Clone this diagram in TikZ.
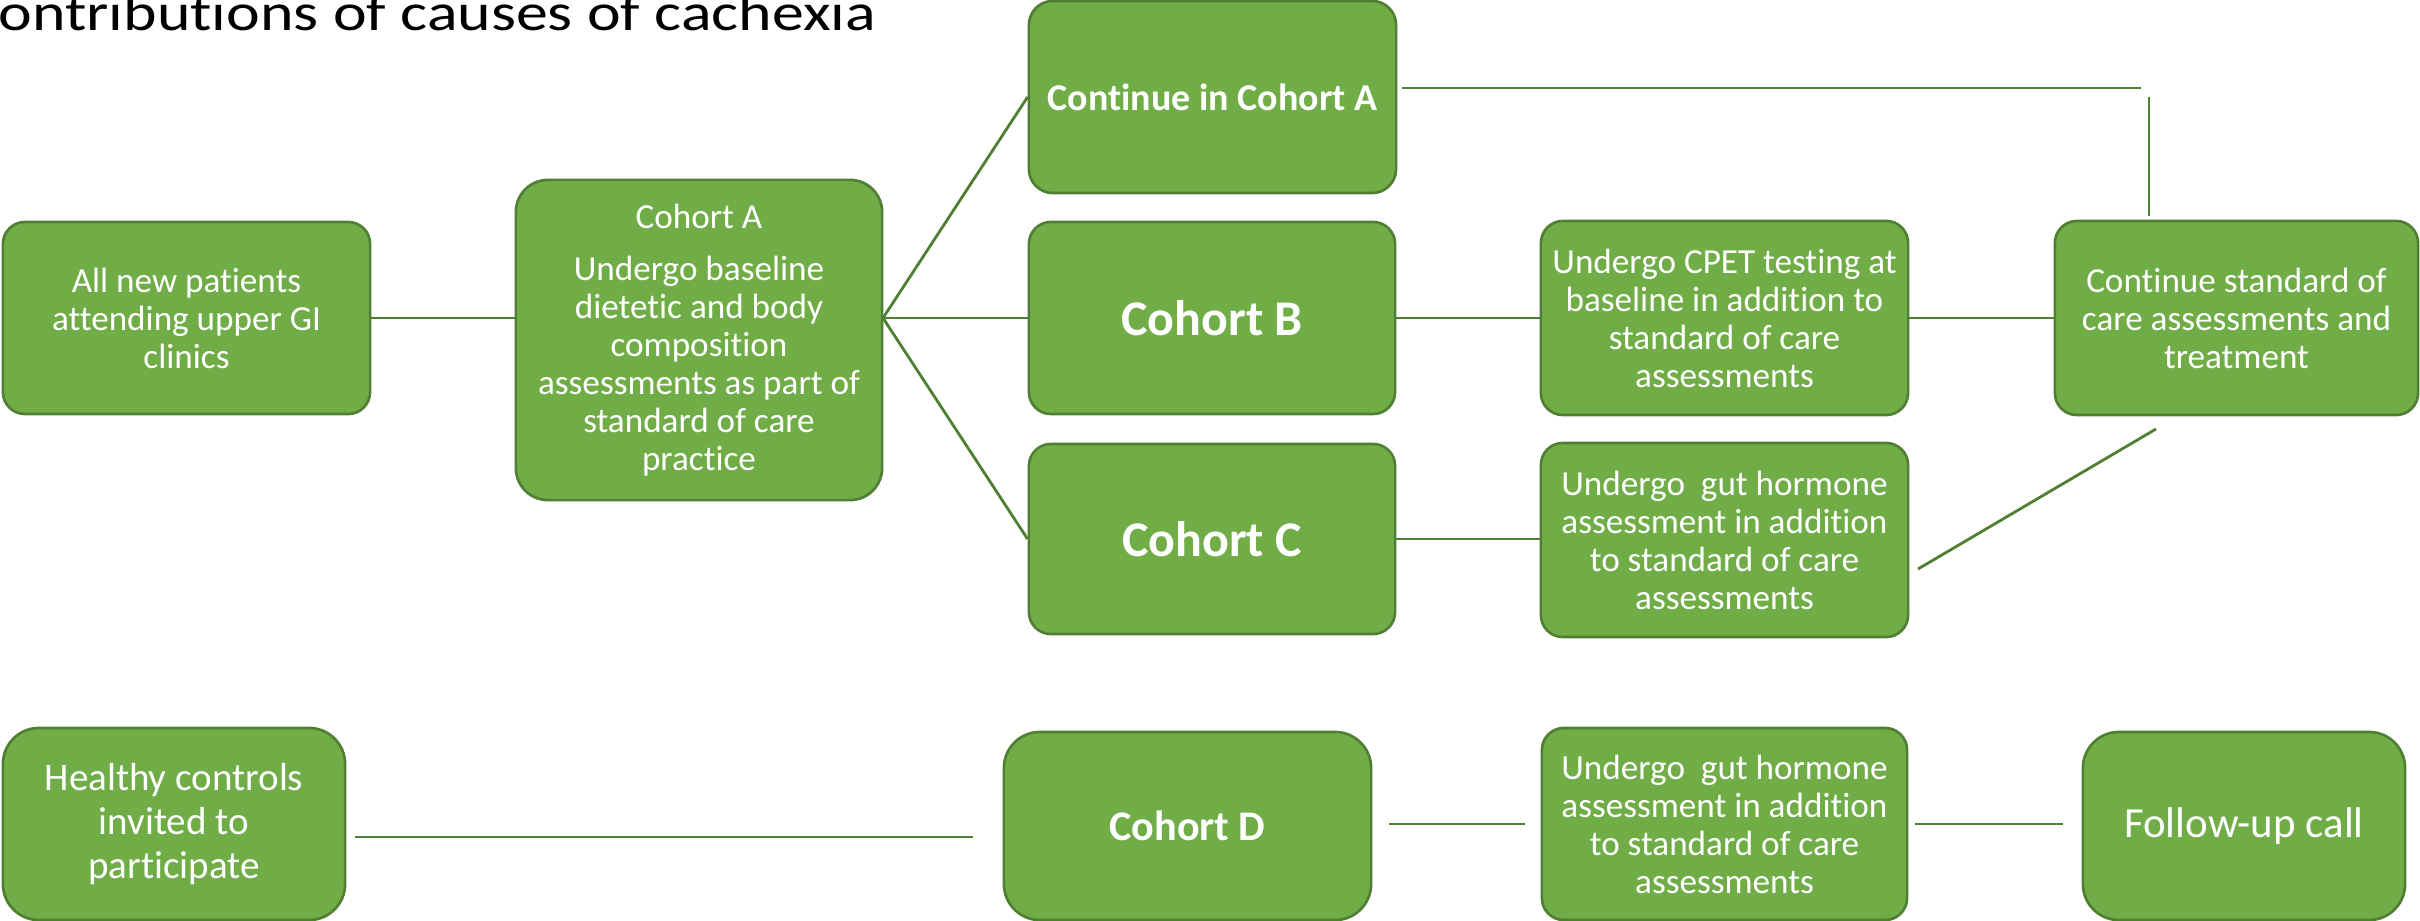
\documentclass[tikz,border=0pt]{standalone}
\usepackage{fontspec}
\setmainfont[Ligatures=NoCommon]{Carlito}
\usetikzlibrary{calc}
\definecolor{boxfill}{HTML}{70AD47}
\definecolor{boxline}{HTML}{507E32}
\tikzset{
  box/.style={draw=boxline, line width=0.75pt, fill=boxfill, text=white, inner sep=0pt,
    align=center, rounded corners=0.22cm, font=\fontsize{10pt}{10.8pt}\selectfont},
  bigcorner/.style={rounded corners=0.36cm},
  midcorner/.style={rounded corners=0.32cm},
  conn/.style={draw=boxline, line width=0.8pt},
}
\begin{document}
\begin{tikzpicture}[x=0.01cm, y=-0.01cm]
\useasboundingbox (0,0) rectangle (2420,921);
% title
\node[anchor=base west, inner sep=0pt, font=\fontsize{15pt}{17pt}\selectfont] (title) at (-2,31)
  {\scalebox{1.21}[1]{ontributions of causes of cachexia}};
% boxes
\node[box, minimum width=3.67cm, minimum height=1.92cm] (all) at (186.5,318)
  {All new patients\\attending upper GI\\clinics};
\node[box, midcorner, minimum width=3.66cm, minimum height=3.20cm] (cohA) at (699,340)
  {Cohort A\\[4pt]Undergo baseline\\dietetic and body\\composition\\assessments as part of\\standard of care\\practice};
\node[box, minimum width=3.67cm, minimum height=1.92cm, rounded corners=0.24cm,
  font=\fontsize{10.8pt}{12pt}\selectfont\bfseries] (contA) at (1212.5,97) {Continue in Cohort A};
\node[box, minimum width=3.66cm, minimum height=1.92cm,
  font=\fontsize{14.2pt}{16pt}\selectfont\bfseries] (cohB) at (1212,318) {Cohort B};
\node[box, minimum width=3.66cm, minimum height=1.90cm,
  font=\fontsize{14.2pt}{16pt}\selectfont\bfseries] (cohC) at (1212,539) {Cohort C};
\node[box, minimum width=3.67cm, minimum height=1.94cm] (cpet) at (1724.5,318)
  {Undergo CPET testing at\\baseline in addition to\\standard of care\\assessments};
\node[box, minimum width=3.63cm, minimum height=1.94cm] (contstd) at (2236.5,318)
  {Continue standard of\\care assessments and\\treatment};
\node[box, minimum width=3.67cm, minimum height=1.94cm] (gutA) at (1724.5,540)
  {Undergo\ \ gut hormone\\assessment in addition\\to standard of care\\assessments};
\node[box, bigcorner, minimum width=3.42cm, minimum height=1.92cm,
  font=\fontsize{11.1pt}{12.5pt}\selectfont] (hc) at (174,824)
  {Healthy controls\\invited to\\participate};
\node[box, bigcorner, minimum width=3.67cm, minimum height=1.88cm,
  font=\fontsize{12pt}{14pt}\selectfont\bfseries] (cohD) at (1187.5,826) {Cohort D};
\node[box, minimum width=3.65cm, minimum height=1.92cm] (gutB) at (1724.5,824)
  {Undergo\ \ gut hormone\\assessment in addition\\to standard of care\\assessments};
\node[box, bigcorner, minimum width=3.22cm, minimum height=1.88cm,
  font=\fontsize{12.2pt}{14pt}\selectfont] (follow) at (2244,826) {Follow-up call};
% free ends
\coordinate (fan) at (883,318);
\coordinate (hEnd) at (2141,88);
\coordinate (vTop) at (2149,97);
\coordinate (dLow) at (1918,569);
\coordinate (dHigh) at (2156,429);
% connectors
\draw[conn] (all.east) -- (all.east -| cohA.west);
\draw[conn] (fan) -- (contA.west);
\draw[conn] (fan) -- (cohB.west);
\draw[conn] (fan) -- (cohC.west);
\draw[conn] (cohB.east) -- (cpet.west);
\draw[conn] (cpet.east) -- (contstd.west);
\draw[conn] (cohC.east) -- (cohC.east -| gutA.west);
\draw[conn] ($(contA.east)+(5,-9)$) -- (hEnd);
\draw[conn] (vTop) -- ($(vTop |- contstd.north)+(0,-4)$);
\draw[conn] (dLow) -- (dHigh);
\draw[conn] ($(hc.east)+(9,13)$) -- ($(hc.east -| cohD.west)+(-30,13)$);
\draw[conn, shorten <=0.17cm, shorten >=0.16cm] (cohD.east |- gutB.west) -- (gutB.west);
\draw[conn, shorten <=0.07cm, shorten >=0.19cm] (gutB.east) -- (gutB.east -| follow.west);
\end{tikzpicture}
\end{document}
